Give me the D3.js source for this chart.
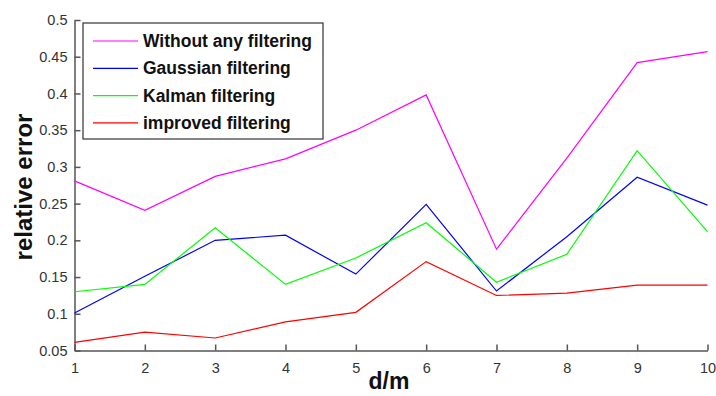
<!DOCTYPE html>
<html><head><meta charset="utf-8">
<script src="https://cdn.jsdelivr.net/npm/d3@7"></script>
<style>body{margin:0;background:#fff}svg{display:block}</style>
</head><body><svg id="c" width="716" height="396"></svg>
<script>
const xValues = [1,2,3,4,5,6,7,8,9,10];
const withoutFiltering = [0.281,0.241,0.287,0.311,0.350,0.398,0.188,0.312,0.442,0.457];
const gaussianFiltering = [0.101,0.151,0.200,0.207,0.154,0.249,0.131,0.205,0.286,0.248];
const kalmanFiltering = [0.130,0.140,0.217,0.140,0.176,0.224,0.143,0.181,0.322,0.212];
const improvedFiltering = [0.061,0.075,0.067,0.089,0.102,0.171,0.125,0.128,0.139,0.139];
const seriesNames = ["Without any filtering","Gaussian filtering","Kalman filtering","improved filtering"];
const seriesColors = ["#ff00ff","#0000ff","#00ff00","#ff0000"];
const yTicks = [0.05,0.1,0.15,0.2,0.25,0.3,0.35,0.4,0.45,0.5];
const xTicks = [1,2,3,4,5,6,7,8,9,10];

(function(){
const series = [withoutFiltering, gaussianFiltering, kalmanFiltering, improvedFiltering];
const svg = d3.select("#c");
const mLeft = 74.5, mRight = 707.5, mTop = 20, mBottom = 350.5;
const x = d3.scaleLinear().domain([1,10]).range([mLeft,mRight]);
const y = d3.scaleLinear().domain([0.05,0.5]).range([mBottom,mTop]);
const axisColor = "#555";
const labelColor = "#333";
const ff = "Arial, 'Liberation Sans', sans-serif";

const gx = svg.append("g").attr("transform",`translate(0,${mBottom})`)
  .call(d3.axisBottom(x).tickValues(xTicks).tickSizeInner(-6).tickSizeOuter(0).tickPadding(12).tickFormat(d3.format("d")));
const gy = svg.append("g").attr("transform",`translate(${mLeft},0)`)
  .call(d3.axisLeft(y).tickValues(yTicks).tickSizeInner(-6).tickSizeOuter(0).tickPadding(7).tickFormat(d=>String(+d.toFixed(2))));
[gx,gy].forEach(g=>{
  g.select(".domain").attr("stroke",axisColor).attr("stroke-width",1.5);
  g.selectAll(".tick line").attr("stroke",axisColor).attr("stroke-width",1.5);
  g.selectAll(".tick text").attr("fill",labelColor).style("font-family",ff).style("font-size","14.5px");
});

const line = d3.line().x((d,i)=>x(xValues[i])).y(d=>y(d));
series.forEach((s,k)=>{
  svg.append("path").datum(s).attr("d",line).attr("fill","none")
    .attr("stroke",seriesColors[k]).attr("stroke-width",1.2).attr("stroke-linejoin","miter");
});

const lg = svg.append("g");
lg.append("rect").attr("x",83).attr("y",23).attr("width",240).attr("height",116)
  .attr("fill","#fff").attr("stroke","#333").attr("stroke-width",1.2);
seriesNames.forEach((n,k)=>{
  const yy = 41 + k*27.3;
  lg.append("line").attr("x1",93).attr("x2",138).attr("y1",yy).attr("y2",yy)
    .attr("stroke",seriesColors[k]).attr("stroke-width",1.2);
  lg.append("text").attr("x",143).attr("y",yy).attr("dy","0.35em")
    .style("font-family",ff).style("font-size","17.5px").style("font-weight","bold")
    .attr("fill","#111").text(n);
});

svg.append("text").attr("x",389).attr("y",389).attr("text-anchor","middle")
  .style("font-family",ff).style("font-size","23px").style("font-weight","bold")
  .attr("fill","#111").text("d/m");
svg.append("text").attr("transform","translate(32,187) rotate(-90)").attr("text-anchor","middle")
  .style("font-family",ff).style("font-size","24px").style("font-weight","bold")
  .attr("fill","#111").text("relative error");
})();
</script></body></html>
